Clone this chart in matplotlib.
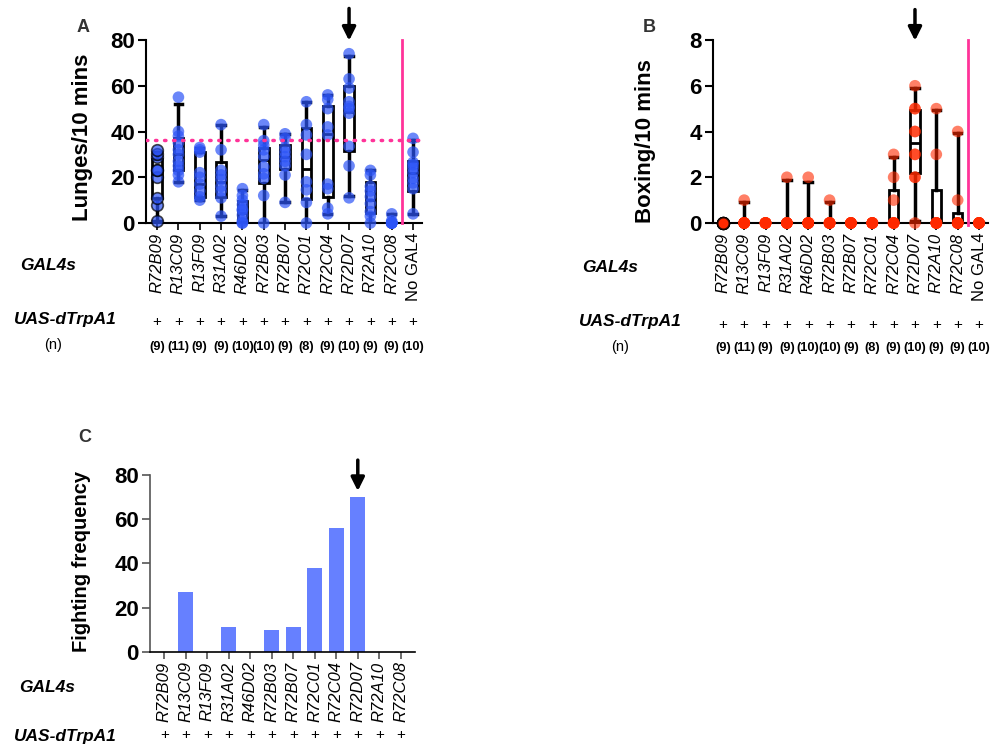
import numpy as np
import matplotlib.pyplot as plt
from matplotlib.transforms import blended_transform_factory

plt.rcParams['font.family'] = ['Liberation Sans', 'DejaVu Sans']

gal4s = ["R72B09", "R13C09", "R13F09", "R31A02", "R46D02", "R72B03", "R72B07",
         "R72C01", "R72C04", "R72D07", "R72A10", "R72C08", "No GAL4"]
n_flies = ["(9)", "(11)", "(9)", "(9)", "(10)", "(10)", "(9)", "(8)", "(9)", "(10)", "(9)", "(9)", "(10)"]

# lunges per fly
lunges = [
    [1, 8, 11, 20, 23, 23, 29, 30, 32],
    [18, 21, 23, 25, 27, 30, 32, 35, 38, 40, 55],
    [10, 11.5, 14, 17, 20, 22, 31, 32, 33],
    [3, 11, 14, 16, 19, 21, 23, 32, 43],
    [0, 0, 1, 3.5, 5.5, 6, 8, 10, 12, 15],
    [0, 12, 19.5, 21.5, 24.5, 29, 32, 34, 36, 43],
    [9, 21, 25, 27, 29, 31, 33, 37, 39],
    [0, 9, 14.5, 18, 30, 38.5, 43, 53],
    [4, 6.5, 15, 17, 38.5, 42, 50, 54, 56],
    [11, 25, 33.5, 48, 50, 51, 53, 59, 63, 74],
    [0, 3, 5, 8.5, 11.5, 14, 16, 21, 23],
    [0, 0, 0, 0, 0, 0, 0, 1, 4],
    [4, 15, 17.5, 19.5, 22, 24, 25.5, 26.5, 31, 37],
]
# box stats: q1, median, q3, whisker low, whisker high
lunge_q1 = [11, 23, 11.5, 11.5, 0.5, 17.5, 23.5, 10.5, 11.5, 31.5, 4.5, 0, 14]
lunge_med = [22, 30, 17, 18, 4.5, 27.5, 29, 23.5, 39, 48.5, 10, 0, 22]
lunge_q3 = [28, 37, 31, 26.5, 9.5, 33, 34, 41.5, 51, 60, 18, 0, 27]
lunge_lo = [1, 18, 10, 3, 0, 0, 9, 0, 4, 12, 0, 0, 4]
lunge_hi = [31, 52, 33, 43, 14.5, 42, 39, 53, 56, 73, 23, 4, 36.5]
lunge_ref = 36.5

boxing = [
    [0, 0, 0, 0, 0, 0, 0, 0, 0],
    [1, 0, 0, 0, 0, 0, 0, 0, 0, 0, 0],
    [0, 0, 0, 0, 0, 0, 0, 0, 0],
    [2, 0, 0, 0, 0, 0, 0, 0, 0],
    [2, 0, 0, 0, 0, 0, 0, 0, 0, 0],
    [1, 0, 0, 0, 0, 0, 0, 0, 0, 0],
    [0, 0, 0, 0, 0, 0, 0, 0, 0],
    [0, 0, 0, 0, 0, 0, 0, 0],
    [3, 2, 1, 0, 0, 0, 0, 0, 0],
    [6, 5, 5, 4, 4, 3, 3, 2, 2, 0],
    [5, 3, 0, 0, 0, 0, 0, 0, 0],
    [4, 1, 0, 0, 0, 0, 0, 0, 0],
    [0, 0, 0, 0, 0, 0, 0, 0, 0, 0],
]
box_q1 = [0, 0, 0, 0, 0, 0, 0, 0, 0, 2.2, 0, 0, 0]
box_med = [0, 0, 0, 0, 0, 0, 0, 0, 0, 3.5, 0, 0, 0]
box_q3 = [0, 0, 0, 0, 0, 0, 0, 0, 1.45, 4.95, 1.45, 0.45, 0]
box_lo = [0, 0, 0, 0, 0, 0, 0, 0, 0, 0.1, 0, 0, 0]
box_hi = [0, 0.9, 0, 1.9, 1.8, 0.9, 0, 0, 2.9, 5.9, 4.95, 3.95, 0]

fight_gal4s = gal4s[:12]
fight_freq = [0, 27, 0, 11, 0, 10, 11, 38, 56, 70, 0, 0]

W, H = 995, 748
fig = plt.figure(figsize=(W / 100, H / 100), dpi=100)


def px(x, y):
    return x / W, 1 - y / H


def style_axis(ax, ylim, yticks):
    ax.set_ylim(*ylim)
    ax.set_yticks(yticks)
    for s in ["top", "right"]:
        ax.spines[s].set_visible(False)
    ax.spines["left"].set_linewidth(1.5)
    ax.spines["bottom"].set_linewidth(1.5)
    ax.tick_params(axis="y", length=6, width=1.5, pad=2, labelsize=16)
    ax.tick_params(axis="x", length=5, width=1.2, pad=2)
    for t in ax.get_yticklabels():
        t.set_fontweight("bold")


def draw_panel(ax, data, q1, med, q3, lo, hi, color, alpha):
    stats = []
    for i in range(len(data)):
        stats.append(dict(q1=q1[i], med=med[i], q3=q3[i], whislo=lo[i], whishi=hi[i], fliers=[]))
    pos = np.arange(len(data))
    ax.bxp(stats, positions=pos, widths=0.45, capwidths=0.35, showfliers=False, patch_artist=True,
           manage_ticks=False,
           boxprops=dict(facecolor="white", edgecolor="black", linewidth=2),
           whiskerprops=dict(color="black", linewidth=2.5),
           capprops=dict(color="black", linewidth=2.5),
           medianprops=dict(color="black", linewidth=2), zorder=2)
    for i, vals in enumerate(data):
        ec = "black" if i == 0 else "none"
        ax.scatter(np.full(len(vals), i), vals, s=70, color=color, alpha=alpha,
                   edgecolors=ec, linewidths=1.2, zorder=3, clip_on=False)
    ax.set_xticks(pos)
    ax.set_xticklabels(gal4s, rotation=90, fontsize=12, va="top")
    for i, t in enumerate(ax.get_xticklabels()):
        t.set_fontstyle("normal" if gal4s[i] == "No GAL4" else "italic")


def row_labels(ax, plus_y, n_y, n_list, count):
    tr = blended_transform_factory(ax.transData, fig.transFigure)
    for i in range(count):
        ax.text(i, 1 - plus_y / H, "+", transform=tr, ha="center", va="center", fontsize=11)
        if n_list is not None:
            ax.text(i, 1 - n_y / H, n_list[i], transform=tr, ha="center", va="center",
                    fontsize=9.3, fontweight="bold")


# ---------- panel A
axA = fig.add_axes([146 / W, 1 - 223 / H, 276 / W, 183 / H])
draw_panel(axA, lunges, lunge_q1, lunge_med, lunge_q3, lunge_lo, lunge_hi, "#2d55f7", 0.7)
axA.set_xlim(-0.52, 12.42)
style_axis(axA, (0, 80), [0, 20, 40, 60, 80])
axA.axhline(lunge_ref, color="#ff3399", lw=2.5, ls=(0, (0.4, 2.2)), dash_capstyle="round", zorder=4)
axA.plot([11.5, 11.5], [0, 80], color="#ff3399", lw=2, zorder=4, clip_on=False)
axA.annotate("", xy=(9, 78.5), xytext=(9, 95), annotation_clip=False,
             arrowprops=dict(arrowstyle="-|>", color="black", lw=2.5, mutation_scale=20))
row_labels(axA, 322, 347, n_flies, 13)

# ---------- panel B
axB = fig.add_axes([713 / W, 1 - 223 / H, 275 / W, 183 / H])
draw_panel(axB, boxing, box_q1, box_med, box_q3, box_lo, box_hi, "#ff2a00", 0.6)
axB.set_xlim(-0.46, 12.42)
style_axis(axB, (0, 8), [0, 2, 4, 6, 8])
axB.plot([11.5, 11.5], [-0.1, 8], color="#ff3399", lw=2, zorder=4, clip_on=False)
axB.annotate("", xy=(9, 7.85), xytext=(9, 9.45), annotation_clip=False,
             arrowprops=dict(arrowstyle="-|>", color="black", lw=2.5, mutation_scale=20))
row_labels(axB, 325, 348, n_flies, 13)

# ---------- panel C
axC = fig.add_axes([150 / W, 1 - 651.7 / H, 265 / W, 176.7 / H])
xc = np.arange(len(fight_gal4s))
axC.bar(xc, fight_freq, width=0.68, color="#6680ff", zorder=2)
axC.set_xlim(-0.66, 11.66)
style_axis(axC, (0, 80), [0, 20, 40, 60, 80])
axC.spines["left"].set_color("#555555")
axC.spines["left"].set_linewidth(1.2)
axC.spines["bottom"].set_linewidth(1.2)
axC.tick_params(axis="y", colors="#555555", labelcolor="black", width=1.2)
axC.tick_params(axis="x", colors="#555555", labelcolor="black", width=1.2)
axC.set_xticks(xc)
axC.set_xticklabels(fight_gal4s, rotation=90, fontsize=12, style="italic", va="top")
axC.annotate("", xy=(9, 71.5), xytext=(9, 88), annotation_clip=False,
             arrowprops=dict(arrowstyle="-|>", color="black", lw=2.5, mutation_scale=20))
row_labels(axC, 735, None, None, 12)

# ---------- y labels, panel letters and row headers
fig.text(*px(83, 137), "Lunges/10 mins", rotation=90, ha="center", va="center", fontsize=16, fontweight="bold")
fig.text(*px(646, 141), "Boxing/10 mins", rotation=90, ha="center", va="center", fontsize=16, fontweight="bold")
fig.text(*px(82, 561), "Fighting frequency", rotation=90, ha="center", va="center", fontsize=14.5, fontweight="bold")

for lab, x, y in [("A", 83, 28), ("B", 649, 28), ("C", 85, 438)]:
    fig.text(*px(x, y), lab, ha="center", va="center", fontsize=13, fontweight="bold", color="#333333")

for x, y in [(48, 266), (610, 268), (47, 687)]:
    fig.text(*px(x, y), "GAL4s", ha="center", va="center", fontsize=12.5, fontweight="bold", style="italic")
for x, y in [(65, 320), (630, 321), (65, 736)]:
    fig.text(*px(x, y), "UAS-dTrpA1", ha="center", va="center", fontsize=12.5, fontweight="bold", style="italic")
for x, y in [(53, 345), (620, 347)]:
    fig.text(*px(x, y), "(n)", ha="center", va="center", fontsize=10.5)

fig.savefig("out.png", dpi=100)
